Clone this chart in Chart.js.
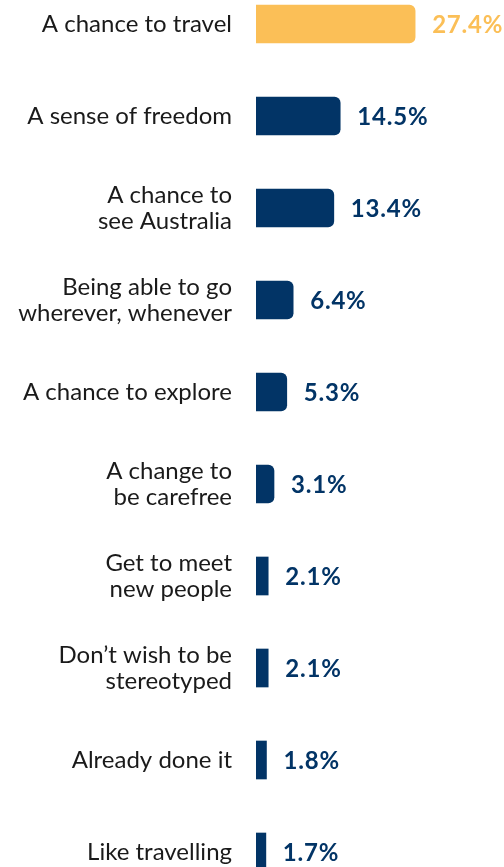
<!DOCTYPE html>
<html>
<head>
<meta charset="utf-8">
<script src="https://cdn.jsdelivr.net/npm/chart.js@4.4.1/dist/chart.umd.min.js"></script>
<style>
  html, body { margin: 0; padding: 0; background: #ffffff; overflow: hidden; }
  /* the axis reserves half a label plus tick padding above and below the bars */
  #wrap { position: absolute; left: 0; top: -59px; width: 504px; height: 994px; }
</style>
</head>
<body>
<div id="wrap"><canvas id="chart"></canvas></div>
<script>
// Reasons given, one entry per bar (multi-line labels as arrays)
const categories = [
  "A chance to travel",
  "A sense of freedom",
  ["A chance to", "see Australia"],
  ["Being able to go", "wherever, whenever"],
  "A chance to explore",
  ["A change to", "be carefree"],
  ["Get to meet", "new people"],
  ["Don\u2019t wish to be", "stereotyped"],
  "Already done it",
  "Like travelling"
];
// Share of respondents, percent
const shares = [27.4, 14.5, 13.4, 6.4, 5.3, 3.1, 2.1, 2.1, 1.8, 1.7];

const NAVY = "#023466";
const GOLD = "#FBBF57";
const barColors = shares.map((v, i) => i === 0 ? GOLD : NAVY);

// Percent labels drawn just past the end of each bar
const valueLabels = {
  id: "valueLabels",
  afterDatasetsDraw(chart) {
    const ctx = chart.ctx;
    const meta = chart.getDatasetMeta(0);
    ctx.save();
    ctx.font = "bold 24px Lato, 'Open Sans', sans-serif";
    if ("letterSpacing" in ctx) ctx.letterSpacing = "0.8px";
    ctx.textBaseline = "middle";
    ctx.textAlign = "left";
    meta.data.forEach((bar, i) => {
      ctx.fillStyle = barColors[i];
      ctx.fillText(shares[i].toFixed(1) + "%", bar.x + 17, bar.y + 1);
    });
    ctx.restore();
  }
};

new Chart(document.getElementById("chart"), {
  type: "bar",
  data: {
    labels: categories,
    datasets: [{
      data: shares,
      backgroundColor: barColors,
      borderSkipped: "start",
      borderRadius: (c) => (c.raw !== undefined && c.raw < 2.5) ? 0 : 6,
      barThickness: 38
    }]
  },
  options: {
    indexAxis: "y",
    responsive: true,
    maintainAspectRatio: false,
    animation: false,
    layout: { padding: 0 },
    plugins: { legend: { display: false }, tooltip: { enabled: false } },
    scales: {
      x: {
        display: false,
        min: 0,
        max: 42.7
      },
      y: {
        grid: { display: false, drawTicks: false },
        border: { display: false },
        afterFit: (s) => { s.width = 256; },
        ticks: {
          padding: 24,
          color: "#1a1a1a",
          font: { family: "Lato, 'Open Sans', sans-serif", size: 24, lineHeight: 1.0834 }
        }
      }
    }
  },
  plugins: [valueLabels]
});
</script>
</body>
</html>
